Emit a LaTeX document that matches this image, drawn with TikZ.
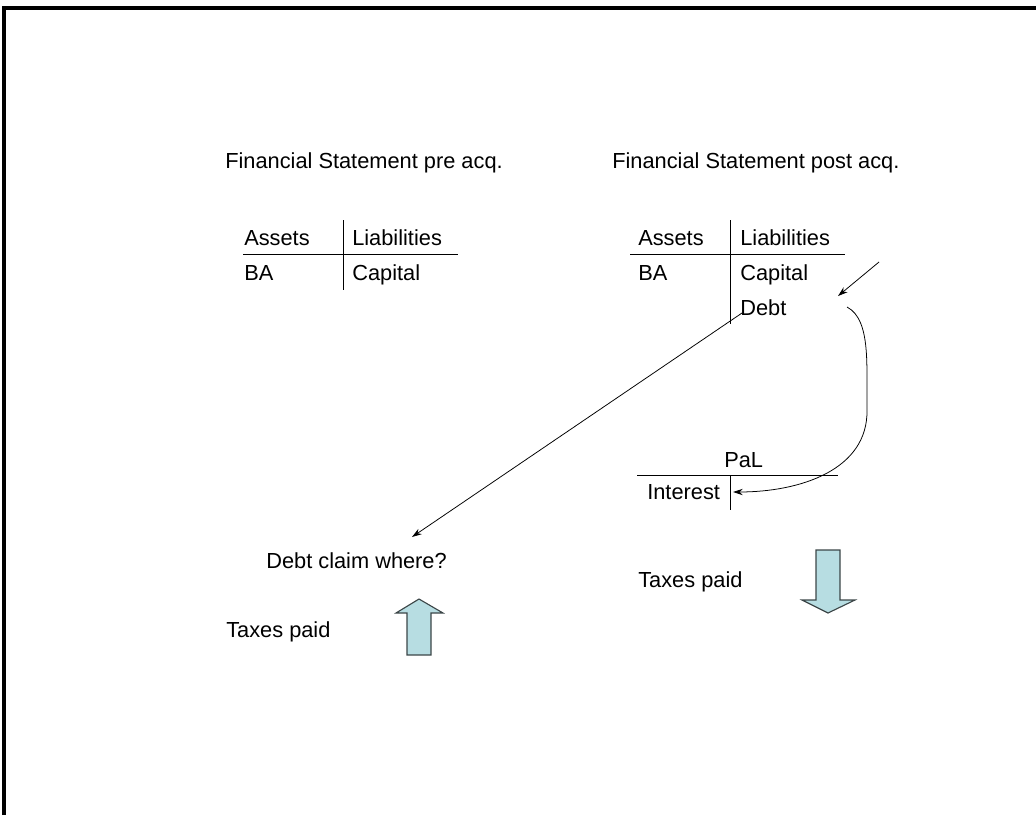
\documentclass[tikz,border=0pt]{standalone}
\usepackage{fontspec}
\setmainfont{Liberation Sans}
\usetikzlibrary{arrows.meta}
\definecolor{arrowfill}{RGB}{183,221,226}
\definecolor{arrowedge}{RGB}{60,70,72}
\begin{document}
\begin{tikzpicture}[x=0.025cm,y=-0.025cm,
  txt/.style={anchor=base west,inner sep=0pt,font=\fontsize{15.5pt}{18pt}\selectfont},
  rule/.style={line width=0.7pt},
  conn/.style={line width=0.55pt,-{Stealth[length=7pt,width=4.5pt]}},
  bigarrow/.style={fill=arrowfill,draw=arrowedge,line width=0.8pt,line join=miter}]
\useasboundingbox (0,0) rectangle (1036,815);
% frame
\draw[line width=2.2pt] (4,815) -- (4,8) -- (1036,8);
% titles
\node[txt] (tpre) at (225,168) {Financial Statement pre acq.};
\node[txt] (tpost) at (612,168) {Financial Statement post acq.};
% left T-account
\node[txt] (la) at (244,245) {Assets};
\node[txt] (ll) at (352,245) {Liabilities};
\node[txt] (lba) at (244,280) {BA};
\node[txt] (lcap) at (352,280) {Capital};
\draw[rule] (243,254) -- (458,254);
\draw[rule] (343,220) -- (343,290);
% right T-account
\node[txt] (ra) at (638,245) {Assets};
\node[txt] (rl) at (740,245) {Liabilities};
\node[txt] (rba) at (638,280) {BA};
\node[txt] (rcap) at (740,280) {Capital};
\node[txt] (debt) at (740,315) {Debt};
\draw[rule] (630,254) -- (845,254);
\draw[rule] (730,220) -- (730,324);
% PaL account
\node[txt] (pal) at (724,467) {PaL};
\node[txt] (interest) at (647,499) {Interest};
\draw[rule] (637,475) -- (838,475);
\draw[rule] (730,475) -- (730,510);
\coordinate (intend) at (733,492);
% Debt claim
\node[txt] (claim) at (266,568) {Debt claim where?};
\coordinate (ctip) at (412,537);
\coordinate (dstart) at (742,313);
\draw[conn] (dstart) -- (ctip);
% small arrow toward Debt
\coordinate (sa) at (879,262);
\coordinate (sb) at (838,296);
\draw[conn] (sa) -- (sb);
% curved arrow Debt -> Interest
\coordinate (cstart) at (847,307);
\draw[conn] (cstart) .. controls (872,320) and (866,370) .. (867,410)
  .. controls (868,470) and (800,492) .. (intend);
% Taxes paid
\node[txt] (taxl) at (226,637) {Taxes paid};
\node[txt] (taxr) at (638,587) {Taxes paid};
% up arrow
\draw[bigarrow] (407,655) -- (407,613) -- (396,613) -- (419,599) -- (443,613) -- (431,613) -- (431,655) -- cycle;
% down arrow
\draw[bigarrow] (816,550) -- (816,600) -- (802,600) -- (828,613) -- (855,600) -- (840,600) -- (840,550) -- cycle;
\end{tikzpicture}
\end{document}
